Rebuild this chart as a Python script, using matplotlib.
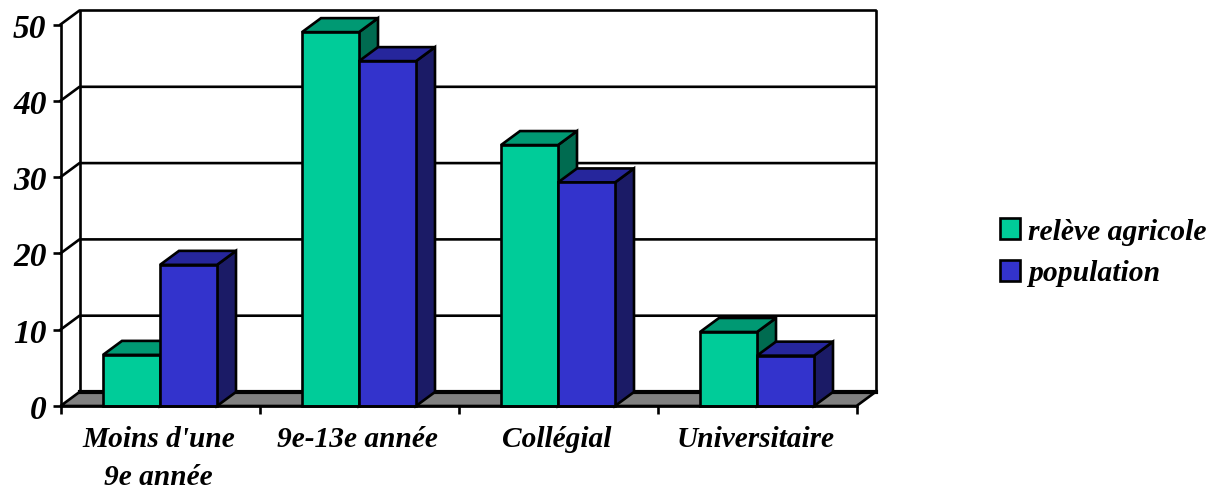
import matplotlib
matplotlib.use("Agg")
import matplotlib.pyplot as plt
from matplotlib.patches import Polygon, Patch
from matplotlib.transforms import ScaledTranslation

categories = ["Moins d'une\n9e année", "9e-13e année", "Collégial", "Universitaire"]
series_names = ["relève agricole", "population"]
releve = [6.7, 49, 34.2, 9.7]
population = [18.5, 45.2, 29.3, 6.6]
y_ticks = [0, 10, 20, 30, 40, 50]

FRONT = ["#00CC99", "#3333CC"]
TOP = ["#009973", "#26269C"]
SIDE = ["#006B50", "#1B1B66"]
FLOOR = "#808080"

# oblique depth of the box, in data units
DX = 19 / 199
DY = 14 / 7.63
BAR_W = 0.2864
LW = 1.9

plt.rcParams["font.family"] = ["Liberation Serif", "DejaVu Serif"]
plt.rcParams["font.weight"] = "bold"
plt.rcParams["font.style"] = "italic"

W, H = 1224, 489
fig = plt.figure(figsize=(W / 100, H / 100), dpi=100)
ax = fig.add_axes([60.5 / W, 1 - 407 / H, (857 - 61) / W, (407 - 25.5) / H])
ax.set_xlim(0, 4)
ax.set_ylim(0, 50)
ax.patch.set_visible(False)


def poly(pts, color, z=3):
    ax.add_patch(Polygon(pts, closed=True, facecolor=color, edgecolor="black",
                         linewidth=LW, joinstyle="miter", clip_on=False, zorder=z))


def line(xs, ys, lw=LW, z=1):
    ax.plot(xs, ys, color="black", linewidth=lw, clip_on=False, zorder=z,
            solid_capstyle="projecting")


# floor and walls
poly([(0, 0), (4, 0), (4 + DX, DY), (DX, DY)], FLOOR, z=1)
line([DX, 4 + DX], [DY, DY], lw=3, z=1.5)
line([DX, DX], [DY, 50 + DY])
line([4 + DX, 4 + DX], [DY, 50 + DY])
for v in y_ticks[1:]:
    line([0, DX, 4 + DX], [v, v + DY, v + DY])


def bar3d(x0, h, i):
    x1 = x0 + BAR_W
    poly([(x1, 0), (x1 + DX, DY), (x1 + DX, h + DY), (x1, h)], SIDE[i])
    poly([(x0, h), (x1, h), (x1 + DX, h + DY), (x0 + DX, h + DY)], TOP[i])
    poly([(x0, 0), (x1, 0), (x1, h), (x0, h)], FRONT[i])


for c in range(len(categories)):
    bar3d(c + 0.5 - BAR_W, releve[c], 0)
    bar3d(c + 0.5, population[c], 1)

# front axes
for side in ["top", "right"]:
    ax.spines[side].set_visible(False)
for side in ["left", "bottom"]:
    ax.spines[side].set_linewidth(LW)
    ax.spines[side].set_zorder(4)

ax.set_yticks(y_ticks)
ax.set_yticklabels([str(v) for v in y_ticks], fontsize=24)
ax.tick_params(axis="y", length=6, width=LW, pad=4)
ax.set_xticks(range(len(categories) + 1))
ax.set_xticklabels([])
ax.tick_params(axis="x", which="major", length=6, width=LW)
ax.set_xticks([c + 0.5 for c in range(len(categories))], minor=True)
ax.set_xticklabels(categories, minor=True, fontsize=21.2, linespacing=1.5)
ax.tick_params(axis="x", which="minor", length=0, pad=14)
# category labels sit a touch left of the bar group centre
for lab in ax.get_xticklabels(minor=True):
    lab.set_transform(lab.get_transform() + ScaledTranslation(-1.5 / 100, 0, fig.dpi_scale_trans))

handles = [Patch(facecolor=FRONT[i], edgecolor="black", linewidth=LW, label=series_names[i])
           for i in range(2)]
fig.legend(handles=handles, loc="center left", bbox_to_anchor=(1000 / W, 1 - 253 / H),
           frameon=False, fontsize=21.3, handlelength=0.68, handleheight=0.72,
           handletextpad=0.27, labelspacing=0.5, borderpad=0, borderaxespad=0)

fig.savefig("out.png", dpi=100)
